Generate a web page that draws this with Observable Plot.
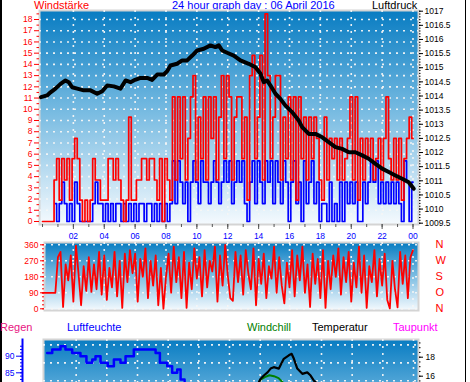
<!DOCTYPE html>
<html><head><meta charset="utf-8">
<script src="https://cdn.jsdelivr.net/npm/d3@7"></script>
<script src="https://cdn.jsdelivr.net/npm/@observablehq/plot@0.6"></script>
<style>
body{margin:0;background:#fff;}
#wrap{position:relative;width:470px;height:382px;overflow:hidden;background:#fff;font-family:"Liberation Sans",Arial,sans-serif;}
#wrap svg.p{position:absolute;left:0;top:0;}
.t{position:absolute;font-size:11px;line-height:11px;white-space:nowrap;}
</style></head><body>
<svg style="position:absolute;width:0;height:0"><defs>
<linearGradient id="bg" x1="0" y1="0" x2="0" y2="1">
<stop offset="0" stop-color="#087cc2"/>
<stop offset="0.45" stop-color="#72b8e0"/>
<stop offset="1" stop-color="#f5fafe"/>
</linearGradient></defs></svg>
<div id="wrap">
<div style="position:absolute;left:0;top:0;width:2px;height:382px;background:#000"></div>
<div style="position:absolute;left:465px;top:0;width:1px;height:382px;background:#000"></div>
<div class="t" style="left:34px;top:0;color:#ff0000">Windstärke</div>
<div class="t" style="left:172px;top:0;color:#0000ff">24 hour graph day : 06 April 2016</div>
<div class="t" style="left:372px;top:0;color:#000">Luftdruck</div>
<div class="t" style="left:0;top:322px;color:#e8147f">Regen</div>
<div class="t" style="left:67px;top:322px;color:#0000ff">Luftfeuchte</div>
<div class="t" style="left:247px;top:322px;color:#008000">Windchill</div>
<div class="t" style="left:312px;top:322px;color:#000">Temperatur</div>
<div class="t" style="left:393px;top:322px;color:#ff00ff">Taupunkt</div>
</div>
<script>
// ---- data (10-minute samples, index i -> hour i/6) ----
const stepHours = 10 / 60;
// wind gust (red), km/h
const gust = [0,0,0,0,0,
 3.7,5.6,1.9,5.6,3.7,5.6,1.9,5.6,7.4,5.6,
 1.9,0,1.9,0,1.9,
 5.6,3.7,3.7, 1.9,1.9,1.9,
 5.6,5.6,3.7,5.6,3.7, 1.9,0,1.9, 9.3, 1.9,1.9,3.7,
 3.7,5.6,5.6,3.7,5.6,5.6,3.7,
 1.9,5.6,0,5.6,3.7,1.9,
 11.1,3.7,11.1,5.6,11.1,3.7,7.4,11.1,13,3.7,9.3,5.6,11.1,3.7,11.1,7.4,11.1,3.7,9.3,13,5.6,13,11.1,3.7,9.3,
 11.1,11.1,5.6,9.3,1.9,13,14.8,5.6,9.3,14.8,3.7,18.5,13,5.6,9.3,13,13,3.7,9.3,5.6,11.1,3.7,11.1,1.9,11.1,5.6,9.3,3.7,9.3,5.6,9.3,
 7.4,3.7,1.9,9.3,3.7,7.4,5.6,7.4,3.7,7.4,3.7,5.6,7.4,11.1,3.7,11.1,1.9,7.4,3.7,7.4,5.6,7.4,3.7,5.6,7.4,3.7,7.4,11.1,5.6,3.7,7.4,3.7,7.4,1.9,5.6,7.4,9.3,7.4];
// mean wind speed (blue), km/h
const speed = [null,null,null,null,null,
 1.6,0,1.6,3.5,1.6,0,1.6,0,3.5,1.6,
 0,0,0,0,0,
 1.6,3.5,1.6, 1.6,0,1.6,
 0,1.6,0,1.6,1.6, 0,1.6,0, 1.6, 0,1.6,0,
 1.6,1.6,0,1.6,1.6,0,1.6,
 0,1.6,0,1.6,0,1.6,
 5.4,1.6,5.4,3.5,1.6,3.5,0,3.5,5.4,3.5,1.6,5.4,3.5,3.5,1.6,3.5,5.4,3.5,1.6,3.5,5.4,3.5,5.4,1.6,3.5,
 5.4,3.5,5.4,1.6,0,3.5,5.4,1.6,5.4,3.5,1.6,5.4,3.5,5.4,1.6,5.4,3.5,1.6,5.4,3.5,0,3.5,5.4,1.6,3.5,0,5.4,1.6,3.5,5.4,1.6,
 3.5,0,1.6,1.6,0,3.5,0,1.6,0,3.5,0,3.5,1.6,3.5,1.6,3.5,0,0,3.5,1.6,3.5,5.4,3.5,5.4,1.6,3.5,1.6,3.5,1.6,3.5,1.6,3.5,1.6,0,5.4,3.5,0,3.5];
// wind direction (deg)
const direction = [90,90,90,90,90,90,
 290,320,10,250,160,300,40,355,200,20,240,100,290,95,250,110,320,80,300,50,230,120,320,70,270,5,310,150,330,200,310,40,280,180,340,60,270,130,300,20,230,0,180,310,90,350,150,290,60,320,5,260,110,340,170,290,70,330,120,270,210,350,40,300,130,360,190,60,45,320,
 150,300,80,330,200,110,340,20,280,140,310,60,240,170,350,90,290,130,30,260,120,330,70,300,160,350,90,250,10,310,140,280,60,330,5,270,110,300,180,340,80,290,150,320,40,260,120,350,90,300,5,240,150,330,70,280,130,310,50,2,270,110,8,320,140,300,60,290,330];
// pressure (hPa)
const pressHours = [-0.1,0.3,0.52,0.84,1.17,1.49,1.7,1.92,2.25,2.67,3.11,3.54,3.87,4.19,4.62,5.05,5.38,5.7,5.91,6.35,6.78,7.1,7.43,7.86,8.08,8.29,8.72,9.05,9.37,9.7,10.02,10.45,10.88,11.2,11.42,11.64,11.96,12.39,12.82,13.36,13.8,14.12,14.33,14.55,14.77,15.09,15.41,15.74,16.17,16.6,16.82,17.25,17.68,18.12,18.54,18.98,19.41,19.84,20.27,20.71,21.13,21.57,22.0,22.43,22.86,23.3,23.72,24.05];
const pressure = [1013.96,1014.02,1014.13,1014.26,1014.43,1014.55,1014.49,1014.31,1014.26,1014.2,1014.2,1014.08,1014.17,1014.37,1014.34,1014.26,1014.55,1014.49,1014.55,1014.64,1014.64,1014.57,1014.76,1014.76,1014.88,1015.08,1015.14,1015.26,1015.26,1015.43,1015.61,1015.67,1015.79,1015.73,1015.79,1015.61,1015.53,1015.43,1015.26,1015.14,1015.02,1014.79,1014.49,1014.55,1014.37,1014.08,1013.9,1013.66,1013.43,1013.13,1012.9,1012.66,1012.66,1012.54,1012.37,1012.19,1012.13,1012.01,1012.01,1011.9,1011.78,1011.6,1011.43,1011.31,1011.19,1011.07,1010.95,1010.72];
// humidity (%)
const humHours = [0.11,0.44,0.98,1.3,1.74,2.28,2.67,3.05,3.26,3.59,4.06,4.46,4.89,5.22,5.76,6.96,7.18,7.46,7.94,8.26,8.59,8.81,9.07];
const humidity = [91,92,93,92,91,90,88,89,90,88,87,89,88,90,92,92,91,88,87,85,86,83,79];
// temperature / windchill (°C), visible part
const tempHours = [13.7,13.9,14.02,14.24,14.48,14.68,14.89,15.22,15.54,15.87,16.05,16.2,16.42,16.75,17.07,17.29,17.5,17.8,18.0];
const temperature = [15.0,15.3,15.7,16.07,16.4,16.8,16.95,16.8,17.83,18.2,18.36,17.83,16.8,16.25,16.4,16.07,15.54,15.1,14.8];
const chillHours = [13.8,14.0,14.3,14.6,14.9,15.2,15.5,15.8];
const windchill = [15.0,15.6,15.9,16.1,16.0,15.8,15.3,14.9];
// ticks
const windTicks = d3.range(0,19);
const windMinor = d3.range(0.5,18.6,1);
const pressTicks = d3.range(1009.5,1017.01,0.5);
const pressMinor = d3.range(1009.5,1017.01,0.1);
const hourTicks = d3.range(0,25);
const evenHours = d3.range(2,25,2);
const dirTicks = [0,90,180,270,360];
const dirMinor = d3.range(0,361,22.5);
const dirLetters = ["N","O","S","W","N"];
const humTicks = [85,90];
const humMinor = d3.range(81,94,1);
const humGrid = [93.4,88,82.6];
const tempTicks = [16,18];
const tempMinor = d3.range(15,19.6,0.5);

const windRows = gust.map((g,i)=>({h:i*stepHours, gust:g, speed:speed[i]}));
const dirRows = direction.map((d,i)=>({h:i*stepHours, d}));
const pressRows = pressure.map((p,i)=>({h:pressHours[i], p}));
const humRows = humidity.map((v,i)=>({h:humHours[i], v}));
const tempRows = temperature.map((v,i)=>({h:tempHours[i], v}));
const chillRows = windchill.map((v,i)=>({h:chillHours[i], v}));

const style = {fontFamily:"Liberation Sans, Arial, sans-serif", fontSize:"8.5px", background:"transparent"};
const dots = {stroke:"#f6f6f6", strokeDasharray:"2,5", strokeWidth:1.6, strokeOpacity:0.95};
const wrap = document.getElementById("wrap");
function add(svg){ svg.classList.add("p"); wrap.appendChild(svg); }
const fmt2 = h => String(h % 24).padStart(2,"0");

// Panel 1: wind
add(Plot.plot({
  width:470, height:382, marginLeft:39, marginRight:52, marginTop:10, marginBottom:158, style,
  x:{domain:[0,24], range:[42,412.5], axis:null},
  y:{domain:[0,18], range:[221,19], axis:null},
  marks:[
    Plot.frame({fill:"url(#bg)", stroke:"#d4d4d4", strokeWidth:2}),
    Plot.ruleY(windTicks.filter(d=>d>0), {y:d=>d, ...dots}),
    Plot.ruleX(evenHours, {x:d=>d, ...dots}),
    Plot.line(windRows, {x:"h", y:"speed", stroke:"#0000ff", strokeWidth:1.7, curve:"step"}),
    Plot.line(windRows, {x:"h", y:"gust", stroke:"#ff0000", strokeWidth:1.7, curve:"step"}),
    Plot.axisY(windTicks, {anchor:"left", color:"#ff0000", tickSize:5, tickPadding:2, label:null}),
    Plot.axisY(windMinor, {anchor:"left", stroke:"#ff0000", fill:"none", tickSize:2.5, label:null}),
    Plot.axisX(hourTicks, {anchor:"bottom", stroke:"#555", fill:"none", tickSize:3, label:null}),
    Plot.axisX(evenHours, {anchor:"bottom", stroke:"#555", fill:"none", tickSize:5, label:null})
  ]
}));
// Panel 1: pressure
add(Plot.plot({
  width:470, height:382, marginLeft:39, marginRight:52, marginTop:10, marginBottom:158, style,
  x:{domain:[0,24], range:[42,412.5], axis:null},
  y:{domain:[1009.5,1017], range:[222.7,10.7], axis:null},
  marks:[
    Plot.line(pressRows, {x:"h", y:"p", stroke:"#000", strokeWidth:4}),
    Plot.axisY(pressTicks, {anchor:"right", color:"#000", tickSize:4, tickPadding:2, tickFormat:d=>String(+d.toFixed(1)), label:null}),
    Plot.axisY(pressMinor, {anchor:"right", stroke:"#000", fill:"none", tickSize:1.5, label:null})
  ]
}));
// Panel 2: wind direction
add(Plot.plot({
  width:470, height:382, marginLeft:44, marginRight:52, marginTop:242, marginBottom:72, style,
  x:{domain:[0,24], range:[42,412.5], axis:null},
  y:{domain:[0,360], range:[308.3,244.3], axis:null},
  marks:[
    Plot.frame({fill:"url(#bg)", stroke:"#d4d4d4", strokeWidth:2}),
    Plot.ruleY(dirTicks, {y:d=>d, ...dots}),
    Plot.ruleX(evenHours, {x:d=>d, ...dots}),
    Plot.line(dirRows, {x:"h", y:"d", stroke:"#ff0000", strokeWidth:1.8}),
    Plot.axisY(dirTicks, {anchor:"left", color:"#ff0000", tickSize:4, tickPadding:2, label:null}),
    Plot.axisY(dirMinor, {anchor:"left", stroke:"#ff0000", fill:"none", tickSize:2, label:null}),
    Plot.axisY(dirTicks, {anchor:"right", color:"#ff0000", tickSize:0, tickPadding:17, fontSize:11, tickFormat:d=>dirLetters[dirTicks.indexOf(d)], label:null}),
    Plot.axisX(evenHours, {anchor:"top", color:"#0000ff", tickSize:0, tickPadding:4, tickFormat:fmt2, label:null})
  ]
}));
// Panel 3 background
add(Plot.plot({
  width:470, height:500, marginLeft:43, marginRight:52, marginTop:339, marginBottom:20, style,
  x:{domain:[0,24], range:[45,413], axis:null},
  y:{domain:[85,90], range:[372.3,355.7], axis:null},
  marks:[
    Plot.frame({fill:"url(#bg)", stroke:"#d4d4d4", strokeWidth:2}),
    Plot.ruleY(humGrid, {y:d=>d, ...dots}),
    Plot.ruleX(evenHours, {x:d=>d, ...dots})
  ]
}));
// Panel 3 humidity
add(Plot.plot({
  width:470, height:500, marginLeft:22, marginRight:52, marginTop:339, marginBottom:20, style,
  x:{domain:[0,24], range:[45,413], axis:null},
  y:{domain:[85,90], range:[372.3,355.7], axis:null},
  marks:[
    Plot.frame({anchor:"left", stroke:"#0000ff", strokeWidth:2}),
    Plot.line(humRows, {x:"h", y:"v", stroke:"#0000ff", strokeWidth:2.5, curve:"step-after"}),
    Plot.axisY(humTicks, {anchor:"left", color:"#0000ff", tickSize:6, tickPadding:2, label:null}),
    Plot.axisY(humMinor, {anchor:"left", stroke:"#0000ff", fill:"none", tickSize:2, label:null})
  ]
}));
// Panel 3 temperature
add(Plot.plot({
  width:470, height:500, marginLeft:43, marginRight:52, marginTop:339, marginBottom:20, style,
  x:{domain:[0,24], range:[45,413], axis:null},
  y:{domain:[16,18], range:[375.7,356.7], axis:null},
  marks:[
    Plot.line(chillRows, {x:"h", y:"v", stroke:"#008000", strokeWidth:2, clip:true}),
    Plot.line(tempRows, {x:"h", y:"v", stroke:"#000", strokeWidth:2.2, clip:true}),
    Plot.axisY(tempTicks, {anchor:"right", color:"#000", tickSize:4, tickPadding:3, label:null}),
    Plot.axisY(tempMinor, {anchor:"right", stroke:"#000", fill:"none", tickSize:1.5, label:null})
  ]
}));
</script></body></html>
